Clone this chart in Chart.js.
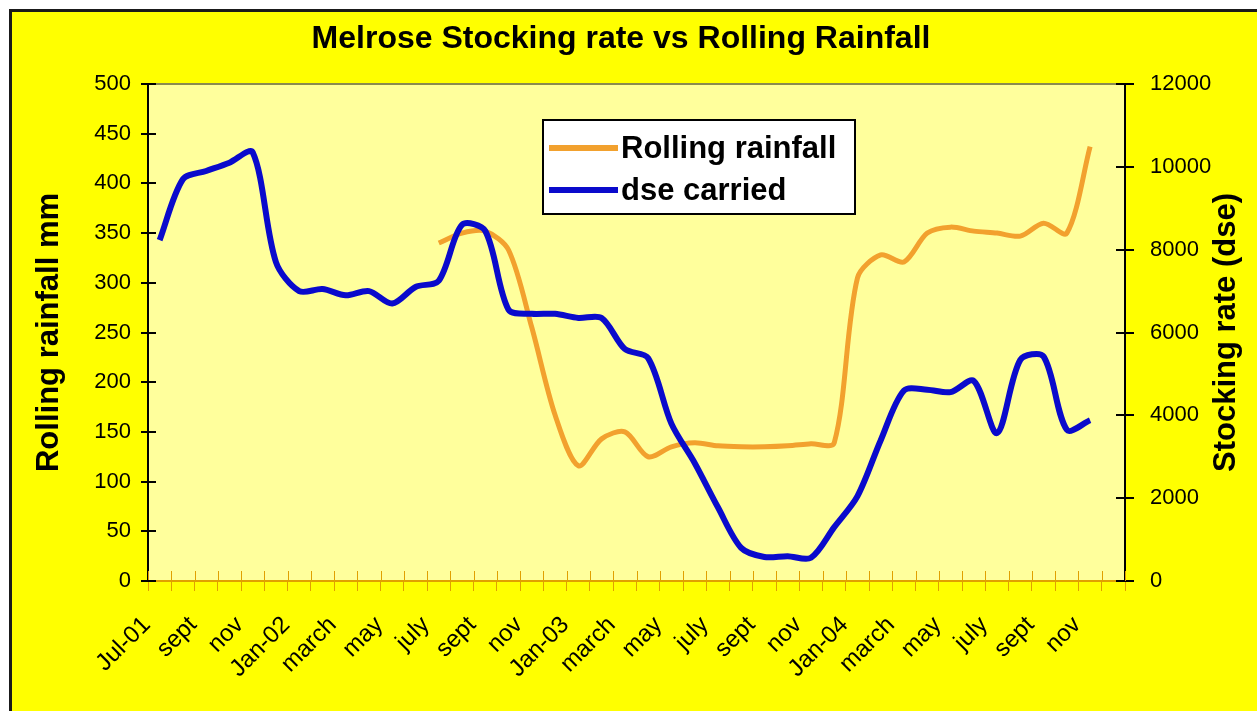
<!DOCTYPE html>
<html><head><meta charset="utf-8">
<script src="https://cdn.jsdelivr.net/npm/chart.js@4.4.0/dist/chart.umd.min.js"></script>
<style>html,body{margin:0;padding:0;background:#fff;overflow:hidden}#wrap{width:1257px;height:711px;position:relative}</style>
</head><body><div id="wrap"><canvas id="c" width="1257" height="711"></canvas></div>
<script>
// ---- data ----
const categories = ['Jul-01','aug','sept','oct','nov','dec','Jan-02','feb','march','april','may','june',
  'july','aug','sept','oct','nov','dec','Jan-03','feb','march','april','may','june',
  'july','aug','sept','oct','nov','dec','Jan-04','feb','march','april','may','june',
  'july','aug','sept','oct','nov','dec'];
const rollingRainfall = [null,null,null,null,null,null,null,null,null,null,null,null,
  340,350,352,333,255,167,116,143,150,125,135,139,
  136,135,135,136,138,139,305,328,321,350,356,352,
  350,347,360,350,437,null];
const dseCarried = [8230,9700,9900,10100,10350,7700,7000,7050,6900,7000,6700,7100,
  7250,8600,8450,6550,6450,6450,6350,6350,5600,5380,3800,2850,
  1780,800,580,600,560,1300,2050,3400,4600,4620,4560,4830,
  3570,5340,5420,3650,3880,null];
const leftAxisTicks = [0,50,100,150,200,250,300,350,400,450,500];
const rightAxisTicks = [0,2000,4000,6000,8000,10000,12000];
const seriesNames = ['Rolling rainfall','dse carried'];
const chartTitle = 'Melrose Stocking rate vs Rolling Rainfall';
const leftTitle = 'Rolling rainfall mm';
const rightTitle = 'Stocking rate (dse)';

const FONT = "'Liberation Sans', Arial, sans-serif";
const ORANGE = '#F2A12E';
const BLUE = '#0A0ACC';

const bgPlugin = {
  id: 'bg',
  beforeDraw(chart) {
    const {ctx, chartArea: a, width, height} = chart;
    ctx.save();
    ctx.fillStyle = '#ffffff'; ctx.fillRect(0, 0, width, height);
    ctx.fillStyle = '#FFFF00'; ctx.fillRect(10, 9, width - 10, height - 9);
    ctx.strokeStyle = '#1a1a1a'; ctx.lineWidth = 3;
    ctx.beginPath(); ctx.moveTo(10.5, height); ctx.lineTo(10.5, 10.5); ctx.lineTo(width, 10.5); ctx.stroke();
    ctx.fillStyle = '#FFFF9C'; ctx.fillRect(a.left, a.top, a.right - a.left, a.bottom - a.top);
    ctx.strokeStyle = '#8a8a50'; ctx.lineWidth = 2;
    ctx.beginPath(); ctx.moveTo(a.left, a.top); ctx.lineTo(a.right, a.top); ctx.stroke();
    ctx.restore();
  }
};

const innerTicks = {
  id: 'innerTicks',
  beforeDatasetsDraw(chart) {
    const {ctx, chartArea: a, scales} = chart;
    ctx.save();
    const x = scales.x;
    ctx.strokeStyle = '#E0A000'; ctx.lineWidth = 1;
    ctx.beginPath();
    for (let i = 0; i <= categories.length; i++) {
      const px = Math.round(x.getPixelForValue(i - 0.5)) + 0.5;
      ctx.moveTo(px, a.bottom); ctx.lineTo(px, a.bottom - 10);
    }
    ctx.stroke();
    ctx.strokeStyle = '#000'; ctx.lineWidth = 2;
    ctx.beginPath();
    leftAxisTicks.forEach(v => { const py = Math.round(scales.y.getPixelForValue(v)); ctx.moveTo(a.left, py); ctx.lineTo(a.left + 8, py); });
    rightAxisTicks.forEach(v => { const py = Math.round(scales.y2.getPixelForValue(v)); ctx.moveTo(a.right, py); ctx.lineTo(a.right - 9, py); });
    ctx.stroke();
    ctx.restore();
  }
};

const extras = {
  id: 'extras',
  afterDraw(chart) {
    const {ctx, chartArea: a} = chart;
    ctx.save();
    ctx.translate(1226, (a.top + a.bottom) / 2);
    ctx.rotate(-Math.PI / 2);
    ctx.fillStyle = '#000';
    ctx.font = 'bold 31px ' + FONT;
    ctx.textAlign = 'center'; ctx.textBaseline = 'middle';
    ctx.fillText(rightTitle, 0, 0);
    ctx.restore();
    ctx.save();
    const bx = 543, by = 120, bw = 312, bh = 94;
    ctx.fillStyle = '#ffffff'; ctx.fillRect(bx, by, bw, bh);
    ctx.strokeStyle = '#000'; ctx.lineWidth = 2; ctx.strokeRect(bx, by, bw, bh);
    const ds = chart.data.datasets;
    const rows = [148, 190];
    ds.forEach((d, i) => {
      ctx.strokeStyle = d.borderColor; ctx.lineWidth = 6;
      ctx.beginPath(); ctx.moveTo(549, rows[i]); ctx.lineTo(618, rows[i]); ctx.stroke();
      ctx.fillStyle = '#000'; ctx.font = 'bold 31px ' + FONT;
      ctx.textAlign = 'left'; ctx.textBaseline = 'middle';
      ctx.fillText(d.label, 621, rows[i] + 1);
    });
    ctx.restore();
  }
};

new Chart(document.getElementById('c'), {
  type: 'line',
  data: {
    labels: categories,
    datasets: [
      { label: seriesNames[0], data: rollingRainfall, yAxisID: 'y', borderColor: ORANGE, backgroundColor: ORANGE,
        borderWidth: 5, pointRadius: 0, tension: 0.3, order: 1, spanGaps: false },
      { label: seriesNames[1], data: dseCarried, yAxisID: 'y2', borderColor: BLUE, backgroundColor: BLUE,
        borderWidth: 6, pointRadius: 0, tension: 0.3, order: 0, spanGaps: false }
    ]
  },
  options: {
    responsive: false,
    animation: false,
    devicePixelRatio: 1,
    layout: { padding: { left: 0, right: 15, top: 20, bottom: 0 } },
    plugins: {
      legend: { display: false },
      tooltip: { enabled: false },
      title: { display: true, text: chartTitle, color: '#000',
        font: { family: FONT, size: 32, weight: 'bold', lineHeight: 1.2 },
        padding: { top: 0, bottom: 25.6 } }
    },
    scales: {
      x: {
        type: 'category', offset: true,
        grid: { display: true, offset: true, drawOnChartArea: false, drawTicks: true, tickLength: 10, color: '#E0A000', lineWidth: 1 },
        border: { display: true, color: '#E0A000', width: 2 },
        ticks: { autoSkip: false, minRotation: 45, maxRotation: 45, padding: 20, labelOffset: -13, color: '#000',
          font: { family: FONT, size: 24 },
          callback: (v, i) => (i % 2 === 0 ? categories[i] : '') },
        afterFit(s) { s.height = 130; }
      },
      y: {
        position: 'left', min: leftAxisTicks[0], max: leftAxisTicks[leftAxisTicks.length - 1],
        grid: { drawOnChartArea: false, drawTicks: true, tickLength: 7, color: '#000', lineWidth: 2 },
        border: { display: true, color: '#000', width: 2 },
        ticks: { stepSize: leftAxisTicks[1] - leftAxisTicks[0], padding: 10, color: '#000', font: { family: FONT, size: 22 },
          callback: v => String(v) },
        title: { display: true, text: leftTitle, color: '#000', font: { family: FONT, size: 31, weight: 'bold', lineHeight: 1.2 }, padding: { top: 31, bottom: 4 } },
        afterFit(s) { s.width = 148; }
      },
      y2: {
        position: 'right', min: rightAxisTicks[0], max: rightAxisTicks[rightAxisTicks.length - 1],
        grid: { drawOnChartArea: false, drawTicks: true, tickLength: 9, color: '#000', lineWidth: 2 },
        border: { display: true, color: '#000', width: 2 },
        ticks: { stepSize: rightAxisTicks[1] - rightAxisTicks[0], padding: 16, color: '#000', font: { family: FONT, size: 22 },
          callback: v => String(v) },
        afterFit(s) { s.width = 117; }
      }
    }
  },
  plugins: [bgPlugin, innerTicks, extras]
});
</script></body></html>
